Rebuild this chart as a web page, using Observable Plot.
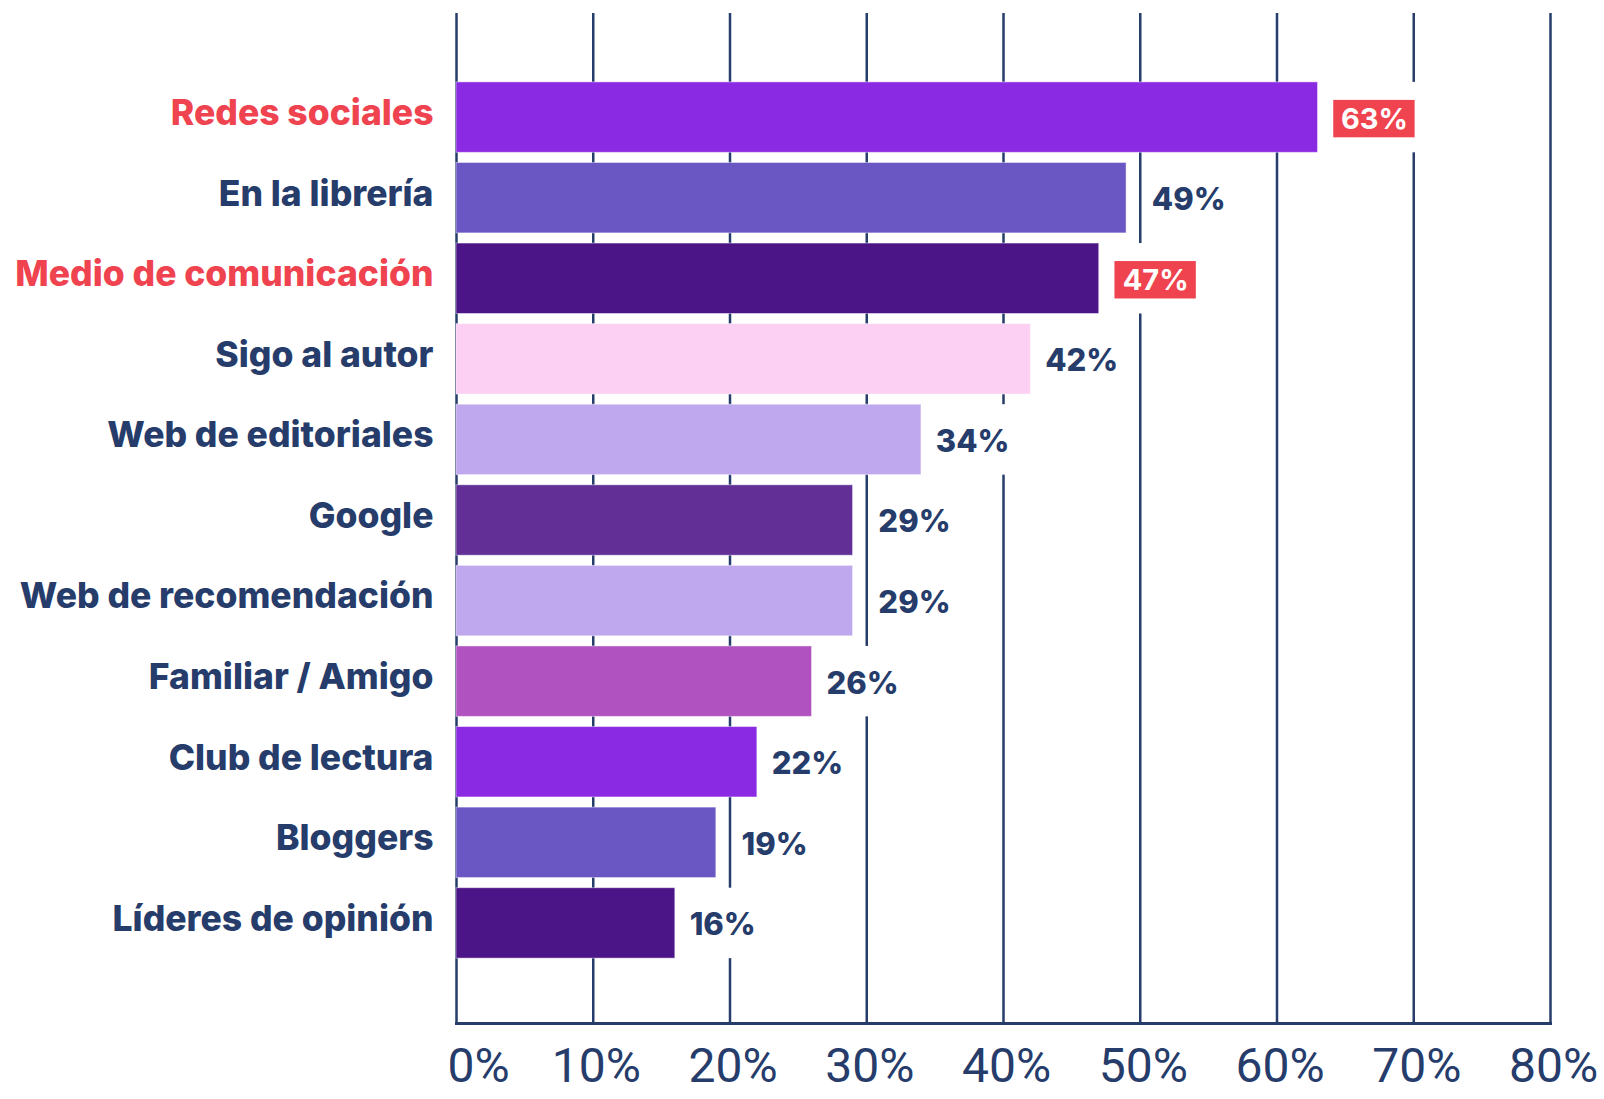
<!DOCTYPE html>
<html>
<head>
<meta charset="utf-8">
<script src="https://cdn.jsdelivr.net/npm/d3@7"></script>
<script src="https://cdn.jsdelivr.net/npm/@observablehq/plot@0.6"></script>
<style>
  html, body { margin: 0; padding: 0; background: #ffffff; }
  #chart svg { display: block; }
</style>
</head>
<body>
<div id="chart"></div>
<script>
const categories = [
  "Redes sociales", "En la librería", "Medio de comunicación", "Sigo al autor",
  "Web de editoriales", "Google", "Web de recomendación", "Familiar / Amigo",
  "Club de lectura", "Bloggers", "Líderes de opinión"
];
const values = [63, 49, 47, 42, 34, 29, 29, 26, 22, 19, 16];
const barColors = [
  "#8a2ae2", "#6a57c4", "#4b1487", "#fbd0f2", "#c0a8ee", "#622f96",
  "#c0a8ee", "#b052bf", "#8a2ae2", "#6a57c4", "#4b1487"
];
const highlighted = ["Redes sociales", "Medio de comunicación"];
const xTicks = [0, 10, 20, 30, 40, 50, 60, 70, 80];

const navy = "#263c6b";
const red = "#ef434f";
const font = "Inter, 'Open Sans', sans-serif";

const data = categories.map((c, i) => ({
  category: c, value: values[i], color: barColors[i], hi: highlighted.includes(c)
}));

// label placement: skip past a gridline that sits right at the bar end
function labelX(v) {
  const next = Math.ceil(v / 10) * 10;
  return (next - v <= 1.5 && next !== v) ? next + 0.85 : v + 1.05;
}
const plain = data.filter(d => !d.hi);
const hi = data.filter(d => d.hi);

const chart = Plot.plot({
  width: 1604,
  height: 1099,
  marginLeft: 456,
  marginRight: 54,
  marginTop: 13,
  marginBottom: 76,
  x: {domain: [0, 80], axis: null},
  y: {domain: categories, axis: null, paddingInner: 0.126, paddingOuter: 0.83, align: 0.515, round: false},
  color: {type: "identity"},
  style: {fontFamily: font, background: "#ffffff", overflow: "visible"},
  marks: [
    Plot.ruleX(xTicks, {stroke: navy, strokeWidth: 2.5}),
    Plot.barX(data, {x: "value", y: "category", fill: "color", stroke: "#ffffff", strokeOpacity: 0.45, strokeWidth: 1}),
    // white backgrounds behind value labels
    Plot.barX(plain, {x1: d => labelX(d.value) - 0.3, x2: d => labelX(d.value) + 5.3, y: "category", fill: "#ffffff"}),
    Plot.barX(hi, {x1: d => d.value + 1.0, x2: d => d.value + 7.3, y: "category", fill: "#ffffff"}),
    Plot.barX(hi, {x1: d => d.value + 1.15, x2: d => d.value + 7.1, y: "category", fill: red, insetTop: 18, insetBottom: 15}),
    Plot.text(plain, {
      x: d => labelX(d.value), y: "category", text: d => d.value + "%",
      textAnchor: "start", fill: navy, fontSize: 31, fontWeight: 800, dy: 2
    }),
    Plot.text(hi, {
      x: d => d.value + 4.125, y: "category", text: d => d.value + "%",
      textAnchor: "middle", fill: "#ffffff", fontSize: 29, fontWeight: 700, dy: 2
    }),
    Plot.text(data, {
      x: () => 0, y: "category", text: "category", textAnchor: "end", dx: -23, dy: -4,
      fill: d => d.hi ? red : navy, fontSize: 35.5, fontWeight: 800
    }),
    Plot.frame({anchor: "bottom", stroke: navy, strokeWidth: 3}),
    // tick labels
    Plot.text(xTicks.filter(t => t === 0), {
      x: d => d, frameAnchor: "bottom", text: d => d + "%", textAnchor: "start",
      dx: -9, dy: 58, fontSize: 48, fill: navy, fontWeight: 400, fontFamily: "Roboto, sans-serif"
    }),
    Plot.text(xTicks.filter(t => t !== 0), {
      x: d => d, frameAnchor: "bottom", text: d => d + "%", textAnchor: "middle",
      dx: 3, dy: 58, fontSize: 48, fill: navy, fontWeight: 400, fontFamily: "Roboto, sans-serif"
    })
  ]
});

document.getElementById("chart").appendChild(chart);
</script>
</body>
</html>
